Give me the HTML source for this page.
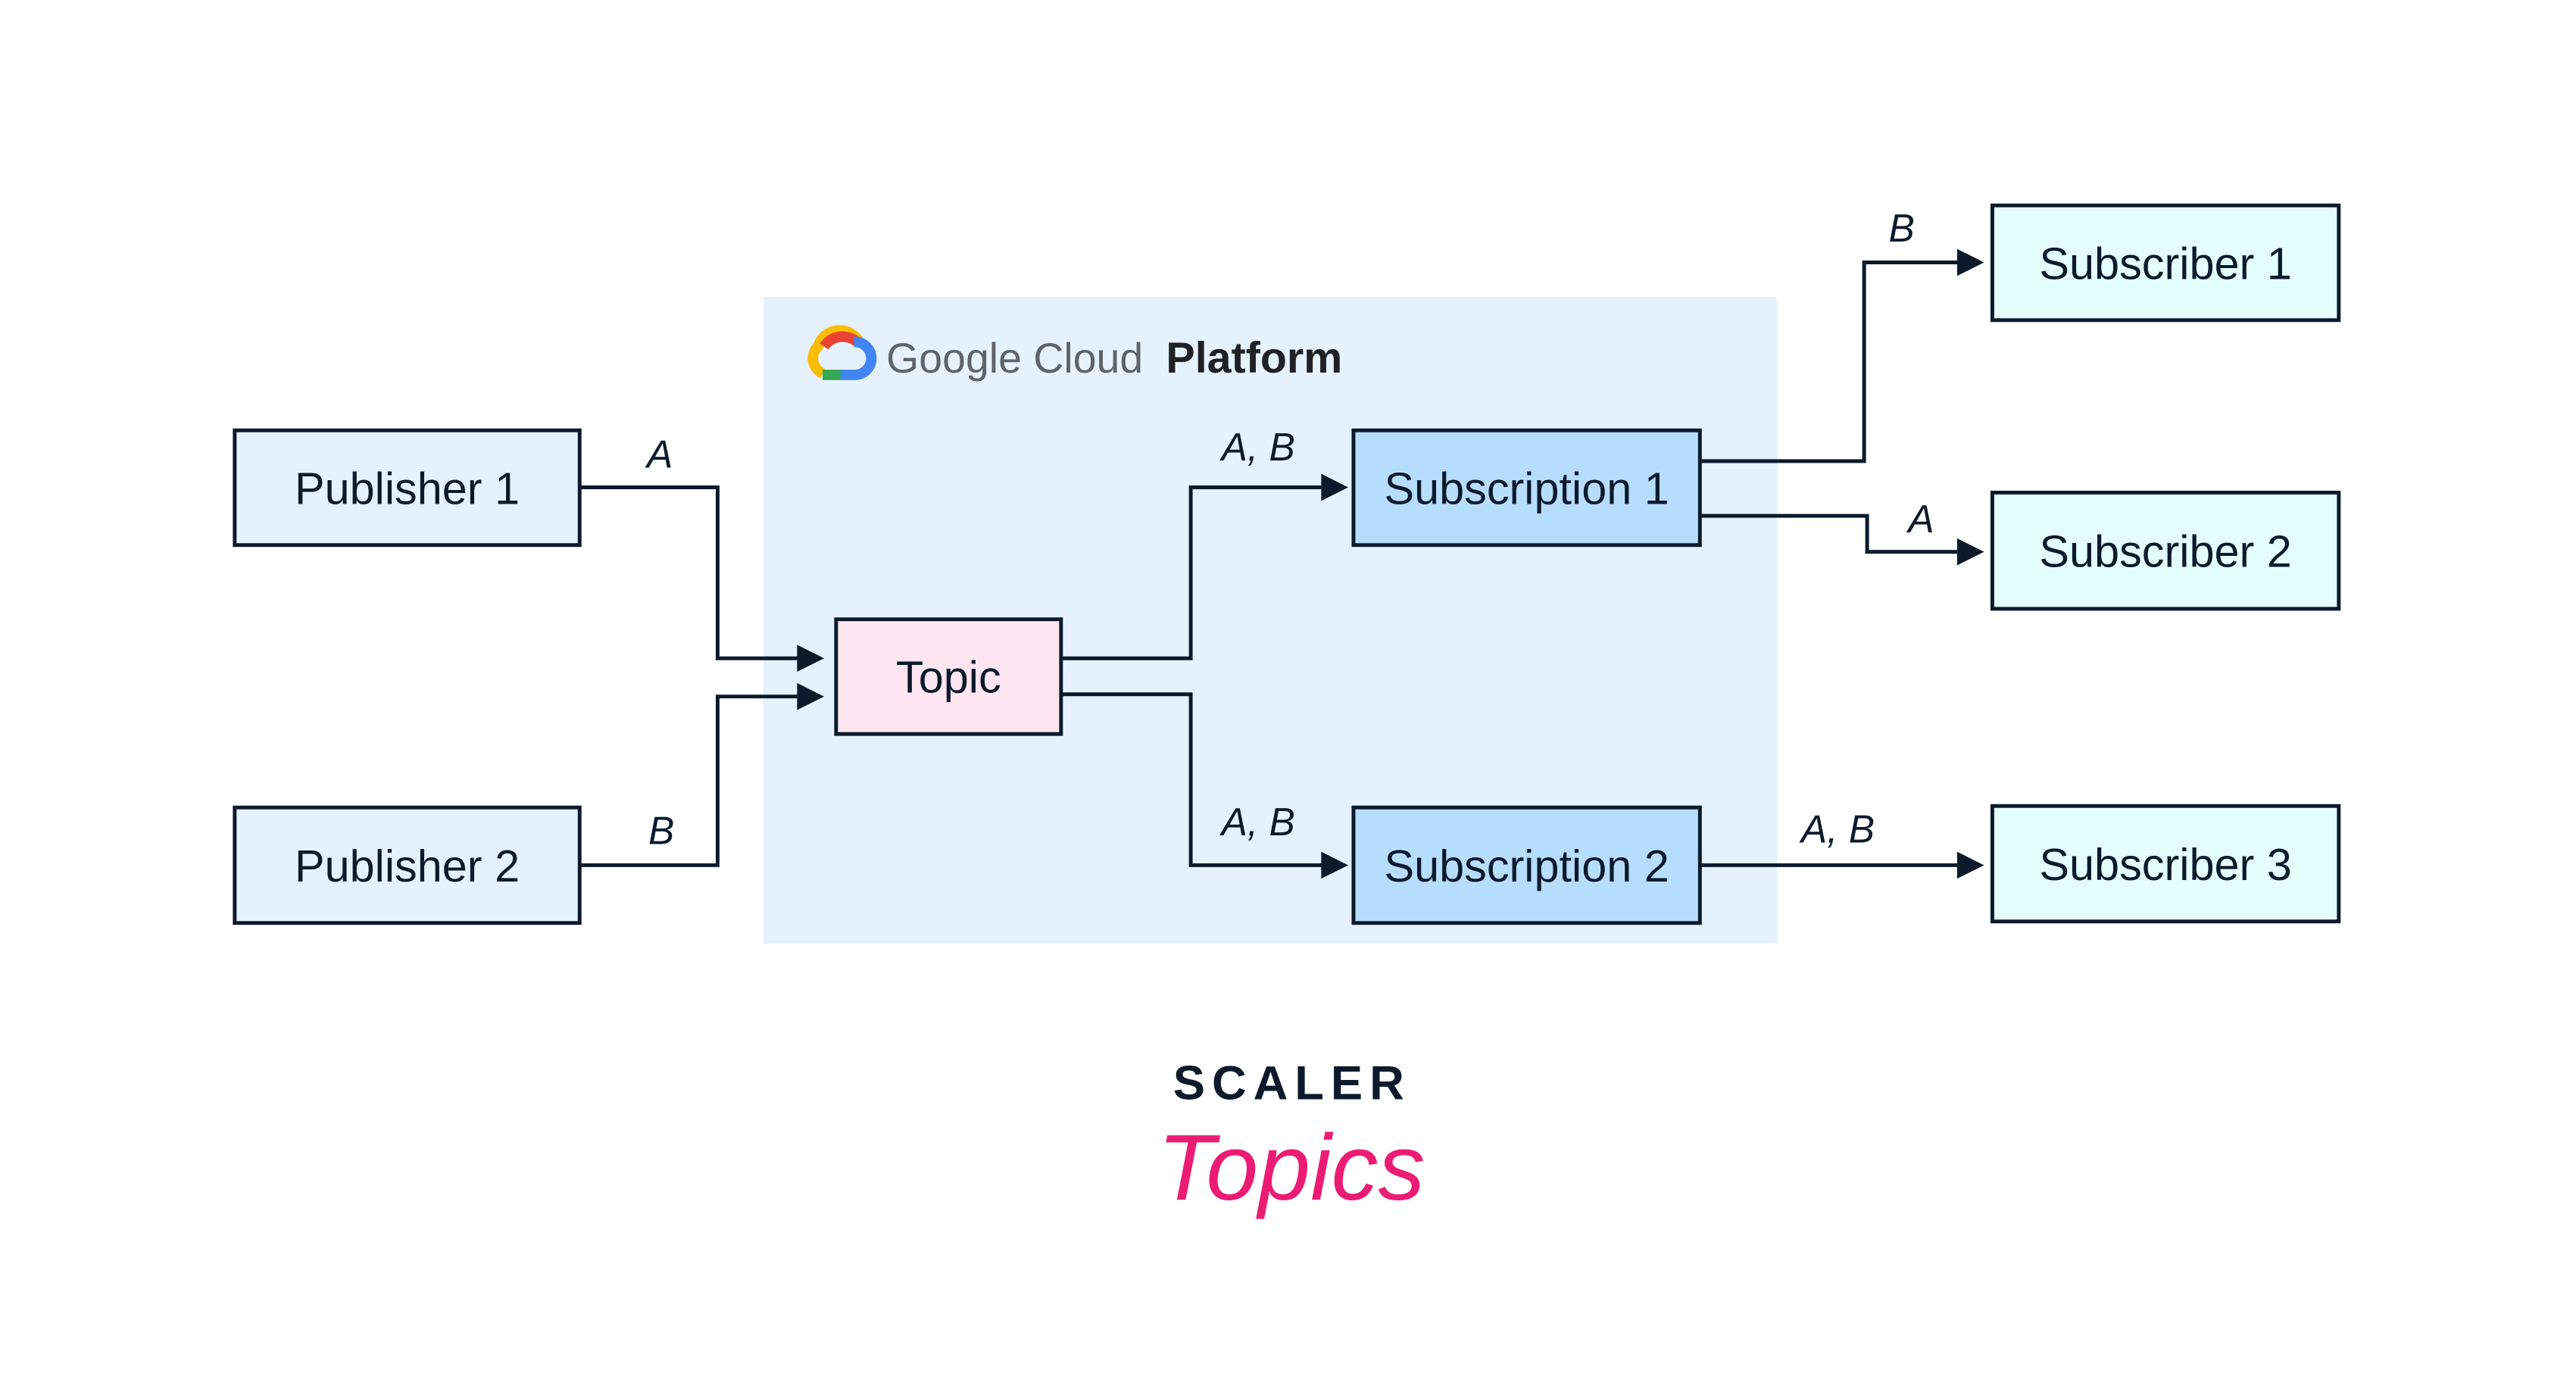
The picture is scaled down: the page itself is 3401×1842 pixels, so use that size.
<!DOCTYPE html>
<html><head><meta charset="utf-8"><style>
html,body{margin:0;padding:0;background:#fff;}
svg{display:block;}
text{font-family:"Liberation Sans",sans-serif;}
</style></head><body>
<svg width="3401" height="1842" viewBox="0 0 3401 1842" xmlns="http://www.w3.org/2000/svg">
<g transform="scale(0.99)">
<rect x="1018" y="396" width="1352" height="863" fill="#e5f2fd"/>
<g transform="translate(1077,438)">
<path d="M20 60 A22 22 0 0 1 14 24 A30 30 0 0 1 70 20" fill="none" stroke="#fbbc04" stroke-width="14"/>
<path d="M22 24 A30 30 0 0 1 66 18" fill="none" stroke="#ea4335" stroke-width="14"/>
<path d="M62 18 A22 22 0 0 1 64 62 L42 62" fill="none" stroke="#4285f4" stroke-width="14"/>
<path d="M44 62 L20 62" fill="none" stroke="#34a853" stroke-width="14"/>
</g>
<text x="1182" y="497" font-size="56" fill="#5f6368">Google Cloud</text>
<text x="1555" y="497" font-size="58" font-weight="bold" fill="#202124">Platform</text>

<g stroke="#0c1a2c" stroke-width="5">
<rect x="313" y="574" width="460" height="153" fill="#e5f2fd"/>
<rect x="313" y="1077" width="460" height="154" fill="#e5f2fd"/>
<rect x="1115" y="826" width="300" height="153" fill="#fde6f0"/>
<rect x="1805" y="574" width="462" height="153" fill="#b7ddfc"/>
<rect x="1805" y="1077" width="462" height="154" fill="#b7ddfc"/>
<rect x="2657" y="274" width="462" height="153" fill="#e4fefd"/>
<rect x="2657" y="657" width="462" height="155" fill="#e4fefd"/>
<rect x="2657" y="1075" width="462" height="154" fill="#e4fefd"/>
<g fill="none">
<polyline points="773,650 957,650 957,878 1065,878"/>
<polyline points="773,1154 957,1154 957,929 1065,929"/>
<polyline points="1415,878 1588,878 1588,650 1764,650"/>
<polyline points="1415,926 1588,926 1588,1154 1764,1154"/>
<polyline points="2267,615 2486,615 2486,350 2612,350"/>
<polyline points="2267,688 2490,688 2490,736 2612,736"/>
<polyline points="2267,1154 2612,1154"/>
</g>
</g>
<g fill="#0c1a2c">
<polygon points="1063,860 1099,878 1063,896"/>
<polygon points="1063,911 1099,929 1063,947"/>
<polygon points="1762,632 1798,650 1762,668"/>
<polygon points="1762,1136 1798,1154 1762,1172"/>
<polygon points="2610,332 2646,350 2610,368"/>
<polygon points="2610,718 2646,736 2610,754"/>
<polygon points="2610,1136 2646,1154 2610,1172"/>
</g>
<g font-size="60" fill="#0c1a2c" text-anchor="middle">
<text x="543" y="672">Publisher 1</text>
<text x="543" y="1176">Publisher 2</text>
<text x="1265" y="924">Topic</text>
<text x="2036" y="672">Subscription 1</text>
<text x="2036" y="1176">Subscription 2</text>
<text x="2888" y="372">Subscriber 1</text>
<text x="2888" y="756">Subscriber 2</text>
<text x="2888" y="1174">Subscriber 3</text>
</g>
<g font-size="52" font-style="italic" fill="#0c1a2c" text-anchor="middle">
<text x="880" y="624">A</text>
<text x="882" y="1126">B</text>
<text x="1678" y="614">A, B</text>
<text x="1678" y="1114">A, B</text>
<text x="2536" y="322">B</text>
<text x="2562" y="710">A</text>
<text x="2451" y="1124">A, B</text>
</g>
<text x="1723" y="1466" font-size="64" font-weight="bold" fill="#0c1a2c" text-anchor="middle" letter-spacing="9">SCALER</text>
<text x="1722" y="1600" font-size="125" font-style="italic" font-family="Liberation Serif, serif" fill="#ec1c74" text-anchor="middle">Topics</text>
</g>
</svg>
</body></html>
